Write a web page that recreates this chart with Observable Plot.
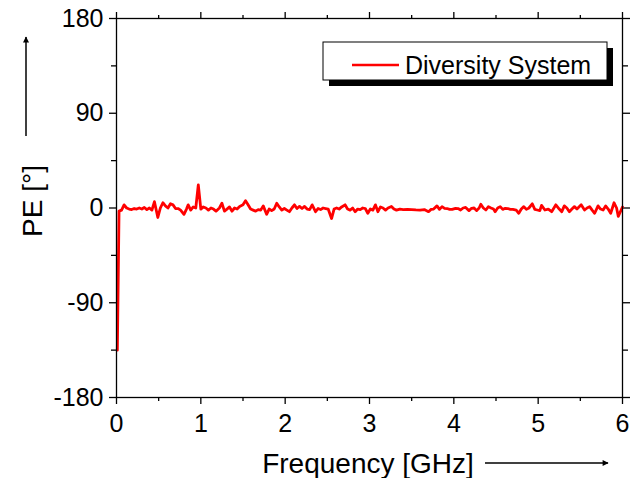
<!DOCTYPE html>
<html>
<head>
<meta charset="utf-8">
<script src="https://cdn.jsdelivr.net/npm/d3@7"></script>
<script src="https://cdn.jsdelivr.net/npm/@observablehq/plot@0.6"></script>
<style>
  html, body { margin: 0; padding: 0; background: #fff; }
  svg { display: block; }
</style>
</head>
<body>
<div id="chart"></div>
<script>
// ---- data ----
const freq = [0.01,0.03,0.06,0.09,0.12,0.15,0.18,0.21,0.24,0.27,0.30,0.33,0.36,0.39,0.42,0.45,0.49,0.52,0.55,0.58,
  0.61,0.64,0.67,0.70,0.73,0.76,0.80,0.83,0.85,0.88,0.91,0.94,0.97,1.00,1.03,1.06,1.09,1.12,1.15,1.18,
  1.22,1.25,1.28,1.31,1.34,1.37,1.40,1.43,1.46,1.50,1.53,1.56,1.59,1.62,1.65,1.68,1.71,1.74,1.78,1.81,
  1.84,1.87,1.90,1.93,1.96,1.99,2.02,2.05,2.08,2.11,2.14,2.17,2.20,2.23,2.26,2.29,2.32,2.36,2.39,2.42,
  2.45,2.48,2.51,2.55,2.58,2.61,2.64,2.67,2.71,2.74,2.77,2.80,2.83,2.86,2.89,2.92,2.95,2.98,3.01,3.04,
  3.07,3.10,3.13,3.16,3.19,3.22,3.26,3.29,3.32,3.36,3.40,3.45,3.50,3.55,3.60,3.65,3.70,3.73,3.76,3.80,
  3.83,3.86,3.89,3.92,3.95,3.98,4.02,4.05,4.08,4.11,4.14,4.18,4.21,4.24,4.27,4.30,4.32,4.35,4.38,4.41,
  4.44,4.47,4.49,4.52,4.55,4.58,4.61,4.64,4.67,4.70,4.74,4.77,4.80,4.83,4.86,4.89,4.93,4.96,4.99,5.02,
  5.04,5.08,5.12,5.16,5.21,5.25,5.28,5.31,5.34,5.37,5.40,5.43,5.46,5.51,5.55,5.58,5.61,5.64,5.67,5.71,
  5.74,5.77,5.80,5.83,5.86,5.90,5.93,5.95,6.00];
const pe = [-135,-3,-2,3,0,-1,-1.5,-0.5,-1,0,-1,0.5,-1.5,0,-2,6,-9,0,5,2,
  0,4,3,-0.5,-0.5,-2,-6,-1,3,-2,1,0,22,-1,1,0,-2,0,-1,-3,
  0,4.5,-3,-1,1,-3,0,-1,1.5,3,7,3,-1,-2,-3,-1.5,-2,2,-6,-1,
  -2.5,-1,4.5,1,-2,-0.5,-2,-3.5,0,3,-0.5,1.5,-0.5,1.5,-1,-1.5,3,-3.5,-0.5,-1.5,
  0,-0.5,-1,-10,-1,0,-1,1,3,-1,-2,0,-3.5,-1,-1.5,0,-0.5,-5,-1,-2,
  3,-3.5,1,0,-2,0,1.5,-1,-2,-1,-1.5,-1.3,-1.5,-1.8,-2,-1.5,-3.5,-1.3,-1,2,
  -1.3,1.3,-0.3,-0.5,-1.3,-1.3,-0.3,-0.5,-1.9,0,0.5,-2.5,-0.3,0,-2.5,0,3.5,0,-1.9,1.3,
  0,-1,-3.5,0,1.3,-1.3,-0.3,-0.5,-1.3,-1.3,-2,-5,-1,1.3,-1.3,0,4,-1.3,-1.9,-2.5,
  2.5,-1.9,-1,-3.5,3,-1,-3.5,2,0,-3.5,-1,1.3,-1,3,-1.9,0,1.3,-2,-5,2,
  -1,-1.9,2,-1,-5,5,0,-8,1];
const xTicks = [0, 1, 2, 3, 4, 5, 6];
const xMinor = [0.5, 1.5, 2.5, 3.5, 4.5, 5.5];
const yTicks = [-180, -90, 0, 90, 180];
const yMinor = [-135, -45, 45, 135];
const seriesName = "Diversity System";
const xLabel = "Frequency [GHz]";
const yLabel = "PE [°]";

const rows = freq.map((f, i) => ({f, v: pe[i]}));

const W = 638, H = 478;
const mL = 116, mR = 16, mT = 18, mB = 81;
const font = "'Liberation Sans', Arial, Helvetica, sans-serif";

const plot = Plot.plot({
  width: W, height: H,
  marginLeft: mL, marginRight: mR, marginTop: mT, marginBottom: mB,
  style: {fontFamily: font, fontSize: "25px", color: "#000", background: "#fff", overflow: "visible"},
  x: {domain: [0, 6]},
  y: {domain: [-180, 180]},
  marks: [
    Plot.axisX({ticks: xTicks, tickSize: 7, tickPadding: 10, tickFormat: d => String(d), label: null, strokeWidth: 1.3}),
    Plot.axisX({ticks: xMinor, tickSize: 4, text: null, label: null, strokeWidth: 1.3}),
    Plot.axisX({anchor: "top", ticks: xTicks, tickSize: 7, text: null, label: null, strokeWidth: 1.3}),
    Plot.axisX({anchor: "top", ticks: xMinor, tickSize: 4, text: null, label: null, strokeWidth: 1.3}),
    Plot.axisY({ticks: yTicks, tickSize: 7, tickPadding: 6, tickFormat: d => String(d), label: null, strokeWidth: 1.3}),
    Plot.axisY({ticks: yMinor, tickSize: 5, text: null, label: null, strokeWidth: 1.3}),
    Plot.axisY({anchor: "right", ticks: yTicks, tickSize: 7, text: null, label: null, strokeWidth: 1.3}),
    Plot.axisY({anchor: "right", ticks: yMinor, tickSize: 5, text: null, label: null, strokeWidth: 1.3}),
    Plot.line(rows, {x: "f", y: "v", stroke: "#ff0000", strokeWidth: 2.8, strokeLinejoin: "round"}),
    Plot.frame({stroke: "#000", strokeWidth: 1.3})
  ]
});

document.getElementById("chart").appendChild(plot);

// ---- decorations: axis titles with arrows, legend ----
const svg = d3.select(plot);
const defs = svg.append("defs");
defs.append("marker").attr("id", "ah").attr("viewBox", "0 0 10 10")
  .attr("refX", 9).attr("refY", 5).attr("markerWidth", 10).attr("markerHeight", 6)
  .attr("markerUnits", "userSpaceOnUse").attr("orient", "auto")
  .append("path").attr("d", "M0,0 L10,5 L0,10 z").attr("fill", "#000");

// y title
svg.append("text").attr("transform", `translate(42,${201}) rotate(-90)`)
  .attr("text-anchor", "middle").attr("font-family", font).attr("font-size", 28)
  .attr("fill", "#000").text(yLabel);
svg.append("line").attr("x1", 26).attr("y1", 136).attr("x2", 26).attr("y2", 37)
  .attr("stroke", "#000").attr("stroke-width", 1.5).attr("marker-end", "url(#ah)");

// x title
svg.append("text").attr("x", 368).attr("y", 473)
  .attr("text-anchor", "middle").attr("font-family", font).attr("font-size", 28)
  .attr("fill", "#000").text(xLabel);
svg.append("line").attr("x1", 485).attr("y1", 463).attr("x2", 608).attr("y2", 463)
  .attr("stroke", "#000").attr("stroke-width", 1.5).attr("marker-end", "url(#ah)");

// legend
const lg = svg.append("g");
lg.append("rect").attr("x", 329).attr("y", 48).attr("width", 284).attr("height", 38).attr("fill", "#000");
lg.append("rect").attr("x", 323).attr("y", 42).attr("width", 284).attr("height", 38)
  .attr("fill", "#fff").attr("stroke", "#000").attr("stroke-width", 1);
lg.append("line").attr("x1", 352).attr("x2", 399).attr("y1", 65).attr("y2", 65)
  .attr("stroke", "#ff0000").attr("stroke-width", 2.6);
lg.append("text").attr("x", 405).attr("y", 74).attr("text-anchor", "start")
  .attr("font-family", font).attr("font-size", 25)
  .attr("fill", "#000").text(seriesName);
</script>
</body>
</html>
